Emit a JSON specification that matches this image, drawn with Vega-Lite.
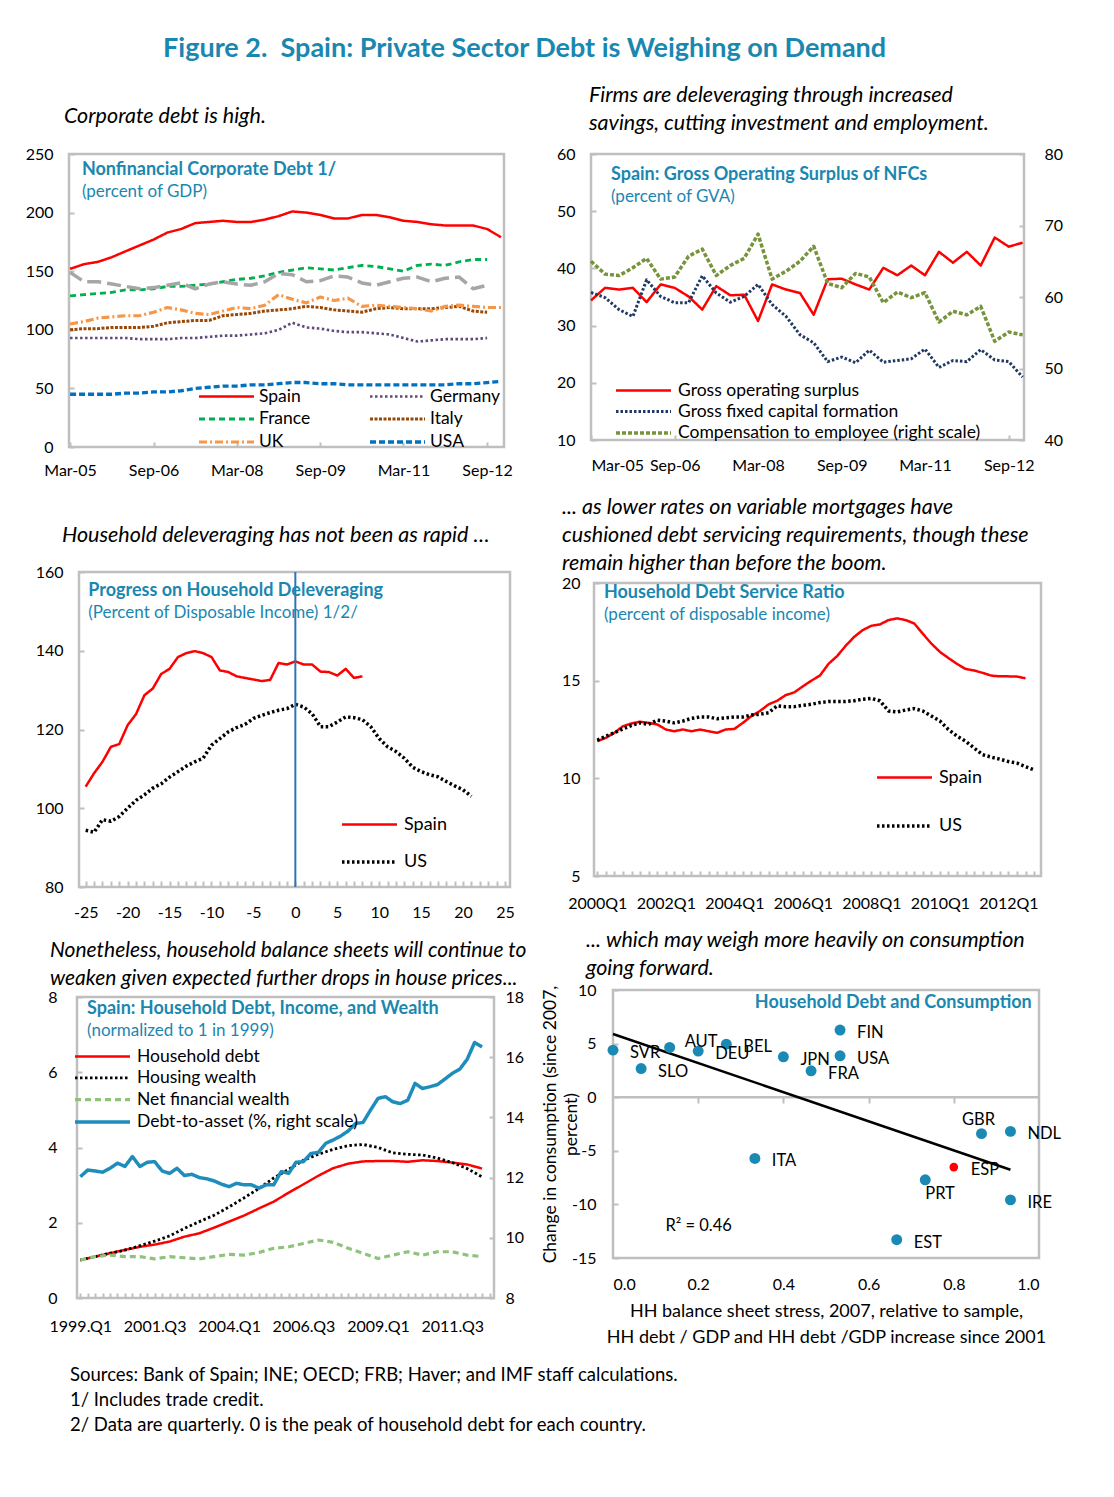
{
"$schema": "https://vega.github.io/schema/vega-lite/v6.json",
"padding": {"left": 18, "top": 35, "right": 10, "bottom": 10},
"title": {"text": "Figure 2.\u00a0 Spain: Private Sector Debt is Weighing on Demand", "fontSize": 27, "fontWeight": "bold", "fontStyle": "normal", "color": "#1a87b0", "anchor": "middle", "frame": "bounds", "offset": 20, "dx": -21, "lineHeight": 30},
"columns": 1, "align": "none", "spacing": 17,
"resolve": {"scale": {"color": "independent", "strokeDash": "independent", "strokeWidth": "independent"}},
"concat": [
{"spacing": 4,
 "resolve": {"scale": {"color": "independent", "strokeDash": "independent", "strokeWidth": "independent"}},
 "hconcat": [
 {"columns": 1, "align": "none", "spacing": 43, "resolve": {"scale": {"color": "independent", "strokeDash": "independent", "strokeWidth": "independent"}}, "concat": [
  {"spacing": 0, "resolve": {"scale": {"color": "independent", "strokeDash": "independent", "strokeWidth": "independent"}}, "hconcat": [
  {"width": 1, "height": 1, "view": {"stroke": null}, "data": {"values": []}, "mark": {"type": "text"}},
  {"width": 435, "height": 293,
   "title": {"text": ["", "Corporate debt is high."], "lineHeight": 14, "dx": -5, "offset": 19},
   "layer": [
    {"data": {"name": "p1"},
     "transform": [{"fold": ["Spain","Germany","France","Italy","UK","USA","Other"], "as": ["s","v"]}, {"filter": "isValid(datum.v)"}],
     "mark": {"type": "line", "strokeJoin": "round"},
     "encoding": {
      "x": {"field": "d", "type": "temporal", "scale": {"nice": false, "domain": [{"year":2005,"month":2,"date":22},{"year":2012,"month":12,"date":21}]},
            "axis": {"values": [{"year":2005,"month":3,"date":1},{"year":2006,"month":9,"date":1},{"year":2008,"month":3,"date":1},{"year":2009,"month":9,"date":1},{"year":2011,"month":3,"date":1},{"year":2012,"month":9,"date":1}], "format": "%b-%y", "labelPadding": 20, "title": null}},
      "y": {"field": "v", "type": "quantitative", "scale": {"nice": false, "domain": [0,250]}, "axis": {"values": [0,50,100,150,200,250], "labelPadding": 21, "minExtent": 48, "maxExtent": 48, "title": null}},
      "color": {"field": "s", "type": "nominal", "scale": {"domain": ["Spain","Germany","France","Italy","UK","USA","Other"], "range": ["#ff0000","#604a7b","#00b050","#984807","#f79646","#0070c0","#a6a6a6"]},
                "legend": {"values": ["Spain","France","UK","Germany","Italy","USA"], "columns": 2, "legendX": 144.5, "legendY": 230, "columnPadding": 52, "rowPadding": 1.5, "labelOffset": 19.5, "title": null}},
      "strokeDash": {"field": "s", "type": "nominal", "scale": {"domain": ["Spain","Germany","France","Italy","UK","USA","Other"], "range": [[1,0],[2.5,2.5],[6,4],[3,1.5],[8,3,2,3],[6,3],[14,6]]}},
      "strokeWidth": {"field": "s", "type": "nominal", "scale": {"domain": ["Spain","Germany","France","Italy","UK","USA","Other"], "range": [2.5,3.5,2,2.5,2,2.5,3]}}
     }},
    {"data": {"values": [{}]}, "mark": {"type": "text", "align": "left", "baseline": "middle", "fontSize": 18, "fontWeight": "bold", "color": "#1a87b0"},
     "encoding": {"x": {"datum": {"year":2005,"month":5,"date":18}, "type": "temporal"}, "y": {"datum": 236}, "text": {"value": "Nonfinancial Corporate Debt 1/"}}},
    {"data": {"values": [{}]}, "mark": {"type": "text", "align": "left", "baseline": "middle", "fontSize": 17, "color": "#1a87b0"},
     "encoding": {"x": {"datum": {"year":2005,"month":5,"date":18}, "type": "temporal"}, "y": {"datum": 217.5}, "text": {"value": "(percent of GDP)"}}}
   ]}]},
  {"columns": 1, "align": "none", "spacing": 16, "resolve": {"scale": {"color": "independent", "strokeDash": "independent", "strokeWidth": "independent"}}, "concat": [
   {"spacing": 0, "resolve": {"scale": {"color": "independent", "strokeDash": "independent", "strokeWidth": "independent"}}, "hconcat": [
   {"width": 1, "height": 1, "view": {"stroke": null}, "data": {"values": []}, "mark": {"type": "text"}},
   {"width": 431, "height": 315,
    "title": {"text": "Household deleveraging has not been as rapid \u2026", "dx": -17, "offset": 18},
    "resolve": {"axis": {"x": "independent"}},
    "layer": [
     {"data": {"name": "p3"},
      "transform": [{"fold": ["Spain","US"], "as": ["s","v"]}, {"filter": "isValid(datum.v)"}],
      "mark": {"type": "line", "strokeJoin": "round"},
      "encoding": {
       "x": {"field": "x", "type": "quantitative", "scale": {"nice": false, "domain": [-25.8, 25.6]},
             "axis": {"orient": "bottom", "values": [-25,-20,-15,-10,-5,0,5,10,15,20,25], "labelExpr": "replace(datum.label, '\u2212', '-')", "ticks": false, "labelPadding": 17, "title": null}},
       "y": {"field": "v", "type": "quantitative", "scale": {"nice": false, "domain": [80,160]}, "axis": {"values": [80,100,120,140,160], "labelPadding": 21, "minExtent": 58, "maxExtent": 58, "title": null}},
       "color": {"field": "s", "type": "nominal", "scale": {"domain": ["Spain","US"], "range": ["#ff0000","#000000"]},
                 "legend": {"legendX": 277.5, "legendY": 240, "rowPadding": 15, "labelFontSize": 18, "title": null}},
       "strokeDash": {"field": "s", "type": "nominal", "scale": {"domain": ["Spain","US"], "range": [[1,0],[2.5,2.5]]}},
       "strokeWidth": {"field": "s", "type": "nominal", "scale": {"domain": ["Spain","US"], "range": [2.5,3.5]}}
      }},
     {"data": {"values": [{}]}, "mark": {"type": "rule", "color": "#2e75b6", "strokeWidth": 2},
      "encoding": {"x": {"datum": 0, "axis": {"orient": "bottom", "labels": false, "values": [-25,-24,-23,-22,-21,-20,-19,-18,-17,-16,-15,-14,-13,-12,-11,-10,-9,-8,-7,-6,-5,-4,-3,-2,-1,0,1,2,3,4,5,6,7,8,9,10,11,12,13,14,15,16,17,18,19,20,21,22,23,24,25], "tickSize": -6, "title": null}}}},
     {"data": {"values": [{}]}, "mark": {"type": "text", "align": "left", "baseline": "middle", "fontSize": 18, "fontWeight": "bold", "color": "#1a87b0"},
      "encoding": {"x": {"datum": -24.7, "axis": null}, "y": {"datum": 155.2}, "text": {"value": "Progress on Household Deleveraging"}}},
     {"data": {"values": [{}]}, "mark": {"type": "text", "align": "left", "baseline": "middle", "fontSize": 17, "color": "#1a87b0"},
      "encoding": {"x": {"datum": -24.7, "axis": null}, "y": {"datum": 149.6}, "text": {"value": "(Percent of Disposable Income) 1/2/"}}}
    ]}]},
   {"spacing": 0, "resolve": {"scale": {"color": "independent", "strokeDash": "independent", "strokeWidth": "independent"}}, "hconcat": [
   {"width": 1, "height": 1, "view": {"stroke": null}, "data": {"values": []}, "mark": {"type": "text"}},
   {"width": 417, "height": 301,
    "title": {"text": ["Nonetheless, household balance sheets will continue to", "weaken given expected further drops in house prices..."], "fontSize": 21, "dx": -27, "offset": 0},
    "resolve": {"scale": {"y": "independent"}},
    "layer": [
     {"data": {"name": "p5"},
      "transform": [{"fold": ["Household debt","Housing wealth","Net financial wealth"], "as": ["s","v"]}, {"filter": "isValid(datum.v)"}],
      "mark": {"type": "line", "strokeJoin": "round"},
      "encoding": {
       "x": {"field": "d", "type": "temporal", "scale": {"nice": false, "domain": [{"year":1998,"month":11,"date":21},{"year":2012,"month":11,"date":25}]},
             "axis": {"tickCount": {"interval": "month", "step": 3}, "labelExpr": "((year(datum.value) - 1999) * 4 + floor(month(datum.value) / 3)) % 10 == 0 ? timeFormat(datum.value, '%Y.Q%q') : ''", "labelOverlap": false, "labelPadding": 25, "title": null}},
       "y": {"field": "v", "type": "quantitative", "scale": {"nice": false, "domain": [0,8]}, "axis": {"values": [0,2,4,6,8], "labelPadding": 25, "minExtent": 56, "maxExtent": 56, "title": null}},
       "color": {"field": "s", "type": "nominal", "scale": {"domain": ["Household debt","Housing wealth","Net financial wealth","Debt-to-asset (%, right scale)"], "range": ["#ff0000","#000000","#8fc27a","#1f8dbb"]},
                 "legend": {"legendX": 12.5, "legendY": 47, "rowPadding": 0.3, "title": null}},
       "strokeDash": {"field": "s", "type": "nominal", "scale": {"domain": ["Household debt","Housing wealth","Net financial wealth","Debt-to-asset (%, right scale)"], "range": [[1,0],[2.5,2.5],[6,4],[1,0]]}},
       "strokeWidth": {"field": "s", "type": "nominal", "scale": {"domain": ["Household debt","Housing wealth","Net financial wealth","Debt-to-asset (%, right scale)"], "range": [2.5,3.5,2.5,3]}}
      }},
     {"data": {"name": "p5"},
      "transform": [{"fold": ["Debt-to-asset (%, right scale)"], "as": ["s","v"]}, {"filter": "isValid(datum.v)"}],
      "mark": {"type": "line", "strokeJoin": "round"},
      "encoding": {
       "x": {"field": "d", "type": "temporal"},
       "y": {"field": "v", "type": "quantitative", "scale": {"nice": false, "domain": [8,18]}, "axis": {"orient": "right", "values": [8,10,12,14,16,18], "labelPadding": 16, "minExtent": 38, "maxExtent": 38, "title": null}},
       "color": {"field": "s", "type": "nominal", "scale": {"domain": ["Household debt","Housing wealth","Net financial wealth","Debt-to-asset (%, right scale)"], "range": ["#ff0000","#000000","#8fc27a","#1f8dbb"]}},
       "strokeDash": {"field": "s", "type": "nominal", "scale": {"domain": ["Household debt","Housing wealth","Net financial wealth","Debt-to-asset (%, right scale)"], "range": [[1,0],[2.5,2.5],[6,4],[1,0]]}},
       "strokeWidth": {"field": "s", "type": "nominal", "scale": {"domain": ["Household debt","Housing wealth","Net financial wealth","Debt-to-asset (%, right scale)"], "range": [2.5,3.5,2.5,3]}}
      }},
     {"data": {"values": [{}]}, "mark": {"type": "text", "align": "left", "baseline": "middle", "fontSize": 18, "fontWeight": "bold", "color": "#1a87b0"},
      "encoding": {"x": {"datum": {"year":1999,"month":3,"date":24}, "type": "temporal"}, "y": {"datum": 7.68, "scale": {"domain": [0,8], "nice": false}, "axis": null}, "text": {"value": "Spain:  Household Debt, Income, and Wealth"}}},
     {"data": {"values": [{}]}, "mark": {"type": "text", "align": "left", "baseline": "middle", "fontSize": 17, "color": "#1a87b0"},
      "encoding": {"x": {"datum": {"year":1999,"month":3,"date":24}, "type": "temporal"}, "y": {"datum": 7.1, "scale": {"domain": [0,8], "nice": false}, "axis": null}, "text": {"value": "(normalized to 1 in 1999)"}}}
    ]}]}
  ]}
 ]},
 {"columns": 1, "align": "none", "spacing": 20, "resolve": {"scale": {"color": "independent", "strokeDash": "independent", "strokeWidth": "independent"}}, "concat": [
  {"spacing": 0, "resolve": {"scale": {"color": "independent", "strokeDash": "independent", "strokeWidth": "independent"}}, "hconcat": [
  {"width": 1, "height": 1, "view": {"stroke": null}, "data": {"values": []}, "mark": {"type": "text"}},
  {"width": 433, "height": 286,
   "title": {"text": ["Firms are deleveraging through increased", "savings, cutting investment and employment."], "dx": -2, "offset": 12},
   "resolve": {"scale": {"y": "independent"}},
   "layer": [
    {"data": {"name": "p2"},
     "transform": [{"fold": ["Gross operating surplus","Gross fixed capital formation"], "as": ["s","v"]}, {"filter": "isValid(datum.v)"}],
     "mark": {"type": "line", "strokeJoin": "round"},
     "encoding": {
      "x": {"field": "d", "type": "temporal", "scale": {"nice": false, "domain": [{"year":2005,"month":3,"date":1},{"year":2012,"month":12,"date":10}]},
            "axis": {"values": [{"year":2005,"month":3,"date":1},{"year":2006,"month":9,"date":1},{"year":2008,"month":3,"date":1},{"year":2009,"month":9,"date":1},{"year":2011,"month":3,"date":1},{"year":2012,"month":9,"date":1}], "format": "%b-%y", "labelPadding": 22, "title": null}},
      "y": {"field": "v", "type": "quantitative", "scale": {"nice": false, "domain": [10,60]}, "axis": {"values": [10,20,30,40,50,60], "labelPadding": 21, "minExtent": 50, "maxExtent": 50, "title": null}},
      "color": {"field": "s", "type": "nominal", "scale": {"domain": ["Gross operating surplus","Gross fixed capital formation","Compensation to employee (right scale)"], "range": ["#ff0000","#1f3864","#77933c"]},
                "legend": {"legendX": 39.5, "legendY": 224, "rowPadding": -1.5, "title": null}},
      "strokeDash": {"field": "s", "type": "nominal", "scale": {"domain": ["Gross operating surplus","Gross fixed capital formation","Compensation to employee (right scale)"], "range": [[1,0],[2.5,2],[4,2]]}},
      "strokeWidth": {"field": "s", "type": "nominal", "scale": {"domain": ["Gross operating surplus","Gross fixed capital formation","Compensation to employee (right scale)"], "range": [2.5,3.5,2.5]}}
     }},
    {"data": {"name": "p2"},
     "transform": [{"fold": ["Compensation to employee (right scale)"], "as": ["s","v"]}, {"filter": "isValid(datum.v)"}],
     "mark": {"type": "line", "strokeJoin": "round"},
     "encoding": {
      "x": {"field": "d", "type": "temporal"},
      "y": {"field": "v", "type": "quantitative", "scale": {"nice": false, "domain": [40,80]}, "axis": {"orient": "right", "values": [40,50,60,70,80], "labelPadding": 25, "minExtent": 48, "maxExtent": 48, "title": null}},
      "color": {"field": "s", "type": "nominal", "scale": {"domain": ["Gross operating surplus","Gross fixed capital formation","Compensation to employee (right scale)"], "range": ["#ff0000","#1f3864","#77933c"]}},
      "strokeDash": {"field": "s", "type": "nominal", "scale": {"domain": ["Gross operating surplus","Gross fixed capital formation","Compensation to employee (right scale)"], "range": [[1,0],[2.5,2],[4,2]]}},
      "strokeWidth": {"field": "s", "type": "nominal", "scale": {"domain": ["Gross operating surplus","Gross fixed capital formation","Compensation to employee (right scale)"], "range": [2.5,3.5,2.5]}}
     }},
    {"data": {"values": [{}]}, "mark": {"type": "text", "align": "left", "baseline": "middle", "fontSize": 18, "fontWeight": "bold", "color": "#1a87b0"},
     "encoding": {"x": {"datum": {"year":2005,"month":7,"date":10}, "type": "temporal"}, "y": {"datum": 56.3, "scale": {"domain": [10,60], "nice": false}, "axis": null}, "text": {"value": "Spain: Gross Operating Surplus of NFCs"}}},
    {"data": {"values": [{}]}, "mark": {"type": "text", "align": "left", "baseline": "middle", "fontSize": 17, "color": "#1a87b0"},
     "encoding": {"x": {"datum": {"year":2005,"month":7,"date":10}, "type": "temporal"}, "y": {"datum": 52.5, "scale": {"domain": [10,60], "nice": false}, "axis": null}, "text": {"value": "(percent of GVA)"}}}
   ]}]},
  {"columns": 1, "align": "none", "spacing": 15, "resolve": {"scale": {"color": "independent", "strokeDash": "independent", "strokeWidth": "independent"}}, "concat": [
   {"spacing": 0, "resolve": {"scale": {"color": "independent", "strokeDash": "independent", "strokeWidth": "independent"}}, "hconcat": [
   {"width": 1, "height": 1, "view": {"stroke": null}, "data": {"values": []}, "mark": {"type": "text"}},
   {"width": 447, "height": 293,
    "title": {"text": ["... as lower rates on variable mortgages have", "cushioned debt servicing requirements, though these", "remain higher than before the boom."], "dx": -32, "offset": 1},
    "layer": [
     {"data": {"name": "p4"},
      "transform": [{"fold": ["Spain","US"], "as": ["s","v"]}, {"filter": "isValid(datum.v)"}],
      "mark": {"type": "line", "strokeJoin": "round"},
      "encoding": {
       "x": {"field": "d", "type": "temporal", "scale": {"nice": false, "domain": [{"year":1999,"month":11,"date":27},{"year":2012,"month":12,"date":13}]},
             "axis": {"tickCount": {"interval": "month", "step": 3}, "labelExpr": "month(datum.value) == 0 && year(datum.value) % 2 == 0 ? timeFormat(datum.value, '%YQ%q') : ''", "labelOverlap": false, "labelPadding": 24, "title": null}},
       "y": {"field": "v", "type": "quantitative", "scale": {"nice": false, "domain": [5,20]}, "axis": {"values": [5,10,15,20], "labelPadding": 19, "minExtent": 53, "maxExtent": 53, "title": null}},
       "color": {"field": "s", "type": "nominal", "scale": {"domain": ["Spain","US"], "range": ["#ff0000","#000000"]},
                 "legend": {"legendX": 297.5, "legendY": 182, "rowPadding": 26, "labelFontSize": 18, "title": null}},
       "strokeDash": {"field": "s", "type": "nominal", "scale": {"domain": ["Spain","US"], "range": [[1,0],[2.5,2.5]]}},
       "strokeWidth": {"field": "s", "type": "nominal", "scale": {"domain": ["Spain","US"], "range": [2.5,3.5]}}
      }},
     {"data": {"values": [{}]}, "mark": {"type": "text", "align": "left", "baseline": "middle", "fontSize": 18, "fontWeight": "bold", "color": "#1a87b0"},
      "encoding": {"x": {"datum": {"year":2000,"month":3,"date":12}, "type": "temporal"}, "y": {"datum": 19.48}, "text": {"value": "Household Debt Service Ratio"}}},
     {"data": {"values": [{}]}, "mark": {"type": "text", "align": "left", "baseline": "middle", "fontSize": 17, "color": "#1a87b0"},
      "encoding": {"x": {"datum": {"year":2000,"month":3,"date":12}, "type": "temporal"}, "y": {"datum": 18.34}, "text": {"value": "(percent of disposable income)"}}}
    ]}]},
   {"spacing": 0, "resolve": {"scale": {"color": "independent", "strokeDash": "independent", "strokeWidth": "independent"}}, "hconcat": [
   {"width": 1, "height": 1, "view": {"stroke": null}, "data": {"values": []}, "mark": {"type": "text"}},
   {"width": 426, "height": 268,
    "title": {"text": ["... which may weigh more heavily on consumption", "going forward."], "dx": -27, "offset": 3},
    "resolve": {"axis": {"x": "independent"}},
    "layer": [
     {"data": {"values": [{}]}, "mark": {"type": "rule", "color": "#bfbfbf", "strokeWidth": 2.5}, "encoding": {"y": {"datum": 0}}},
     {"data": {"name": "fit"}, "mark": {"type": "line", "color": "#000000", "strokeWidth": 2.5},
      "encoding": {"x": {"field": "x", "type": "quantitative", "scale": {"domain": [0,1], "nice": false}, "axis": {"orient": "bottom", "offset": -161, "labels": false, "values": [0.2,0.4,0.6,0.8], "tickSize": 6, "title": null}},
                   "y": {"field": "y", "type": "quantitative"}}},
     {"data": {"name": "p6"}, "mark": {"type": "circle", "opacity": 1},
      "encoding": {
       "x": {"field": "x", "type": "quantitative", "axis": {"orient": "bottom", "values": [0,0.2,0.4,0.6,0.8,1], "format": ".1f", "ticks": false, "labelPadding": 18, "title": ["HH balance sheet stress, 2007, relative to sample,", "HH debt / GDP and HH debt /GDP increase since 2001"], "titlePadding": 10, "titleLineHeight": 26, "titleFontSize": 18}},
       "y": {"field": "y", "type": "quantitative", "scale": {"domain": [-15,10], "nice": false}, "axis": {"values": [-15,-10,-5,0,5,10], "labelExpr": "replace(datum.label, '\u2212', '-')", "labelPadding": 22, "minExtent": 20, "maxExtent": 20, "title": ["Change in consumption (since 2007,", "percent)"], "titlePadding": 13, "titleLineHeight": 21, "titleFontSize": 17.5}},
       "color": {"condition": {"test": "datum.c === 'ESP'", "value": "#ff0000"}, "value": "#1a8ab5"},
       "size": {"condition": {"test": "datum.c === 'ESP'", "value": 75}, "value": 120}
      }},
     {"data": {"name": "p6"}, "transform": [{"filter": "indexof(['GBR','PRT','AUT'], datum.c) < 0"}],
      "mark": {"type": "text", "align": "left", "baseline": "middle", "dx": 17, "dy": 3, "fontSize": 16.5},
      "encoding": {"x": {"field": "x", "type": "quantitative", "axis": null}, "y": {"field": "y", "type": "quantitative"}, "text": {"field": "c"}}},
     {"data": {"name": "p6"}, "transform": [{"filter": "datum.c === 'AUT'"}],
      "mark": {"type": "text", "align": "left", "baseline": "middle", "dx": 15, "dy": -5, "fontSize": 16.5},
      "encoding": {"x": {"field": "x", "type": "quantitative", "axis": null}, "y": {"field": "y", "type": "quantitative"}, "text": {"field": "c"}}},
     {"data": {"name": "p6"}, "transform": [{"filter": "datum.c === 'GBR'"}],
      "mark": {"type": "text", "align": "center", "baseline": "middle", "dx": -3, "dy": -14, "fontSize": 16.5},
      "encoding": {"x": {"field": "x", "type": "quantitative", "axis": null}, "y": {"field": "y", "type": "quantitative"}, "text": {"field": "c"}}},
     {"data": {"name": "p6"}, "transform": [{"filter": "datum.c === 'PRT'"}],
      "mark": {"type": "text", "align": "left", "baseline": "middle", "dx": 0, "dy": 14, "fontSize": 16.5},
      "encoding": {"x": {"field": "x", "type": "quantitative", "axis": null}, "y": {"field": "y", "type": "quantitative"}, "text": {"field": "c"}}},
     {"data": {"values": [{}]}, "mark": {"type": "text", "align": "left", "baseline": "middle", "fontSize": 16.5},
      "encoding": {"x": {"datum": 0.123, "axis": null}, "y": {"datum": -12}, "text": {"value": "R\u00b2 = 0.46"}}},
     {"data": {"values": [{}]}, "mark": {"type": "text", "align": "right", "baseline": "middle", "fontSize": 18, "fontWeight": "bold", "color": "#1a87b0"},
      "encoding": {"x": {"datum": 0.983, "axis": null}, "y": {"datum": 8.8}, "text": {"value": "Household Debt and Consumption"}}}
    ]}]}
  ]}
 ]}
]},
{"width": 10, "height": 1, "view": {"stroke": null},
 "data": {"values": []}, "mark": {"type": "text"},
 "title": {"text": ["Sources: Bank of Spain; INE; OECD; FRB; Haver; and IMF staff calculations.", "1/ Includes trade credit.", "2/ Data are quarterly. 0 is the peak of household debt for each country."], "fontStyle": "normal", "fontSize": 18.5, "lineHeight": 25, "dx": 52, "offset": 0}}
],
"datasets": {
 "p1": [
  {"d":"2005/03/01","Spain":152,"Germany":93,"France":129,"Italy":100,"UK":105,"USA":45,"Other":149},
  {"d":"2005/06/01","Spain":156,"Germany":93,"France":130,"Italy":101,"UK":107,"USA":45,"Other":141},
  {"d":"2005/09/01","Spain":158,"Germany":93,"France":131,"Italy":101,"UK":110,"USA":45,"Other":141},
  {"d":"2005/12/01","Spain":162,"Germany":93,"France":132,"Italy":102,"UK":111,"USA":45,"Other":139},
  {"d":"2006/03/01","Spain":167,"Germany":93,"France":134,"Italy":102,"UK":112,"USA":46,"Other":137},
  {"d":"2006/06/01","Spain":172,"Germany":92,"France":134,"Italy":102,"UK":112,"USA":46,"Other":135},
  {"d":"2006/09/01","Spain":177,"Germany":92,"France":135,"Italy":103,"UK":115,"USA":47,"Other":136},
  {"d":"2006/12/01","Spain":183,"Germany":92,"France":137,"Italy":106,"UK":119,"USA":47,"Other":138},
  {"d":"2007/03/01","Spain":186,"Germany":93,"France":137,"Italy":107,"UK":117,"USA":48,"Other":140},
  {"d":"2007/06/01","Spain":191,"Germany":93,"France":138,"Italy":108,"UK":114,"USA":50,"Other":135},
  {"d":"2007/09/01","Spain":192,"Germany":94,"France":139,"Italy":108,"UK":113,"USA":51,"Other":139},
  {"d":"2007/12/01","Spain":193,"Germany":95,"France":141,"Italy":112,"UK":116,"USA":52,"Other":141},
  {"d":"2008/03/01","Spain":192,"Germany":95,"France":143,"Italy":113,"UK":119,"USA":52,"Other":139},
  {"d":"2008/06/01","Spain":192,"Germany":96,"France":144,"Italy":114,"UK":118,"USA":53,"Other":138},
  {"d":"2008/09/01","Spain":194,"Germany":97,"France":146,"Italy":116,"UK":121,"USA":53,"Other":141},
  {"d":"2008/12/01","Spain":197,"Germany":100,"France":149,"Italy":117,"UK":130,"USA":54,"Other":148},
  {"d":"2009/03/01","Spain":201,"Germany":106,"France":151,"Italy":118,"UK":126,"USA":55,"Other":147},
  {"d":"2009/06/01","Spain":200,"Germany":102,"France":153,"Italy":120,"UK":123,"USA":55,"Other":141},
  {"d":"2009/09/01","Spain":198,"Germany":101,"France":152,"Italy":119,"UK":128,"USA":54,"Other":142},
  {"d":"2009/12/01","Spain":195,"Germany":99,"France":151,"Italy":117,"UK":125,"USA":54,"Other":146},
  {"d":"2010/03/01","Spain":195,"Germany":98,"France":153,"Italy":116,"UK":127,"USA":53,"Other":145},
  {"d":"2010/06/01","Spain":198,"Germany":98,"France":155,"Italy":115,"UK":120,"USA":53,"Other":140},
  {"d":"2010/09/01","Spain":198,"Germany":97,"France":154,"Italy":118,"UK":121,"USA":53,"Other":138},
  {"d":"2010/12/01","Spain":196,"Germany":96,"France":152,"Italy":119,"UK":120,"USA":53,"Other":141},
  {"d":"2011/03/01","Spain":193,"Germany":93,"France":150,"Italy":118,"UK":119,"USA":53,"Other":144},
  {"d":"2011/06/01","Spain":192,"Germany":90,"France":155,"Italy":118,"UK":118,"USA":53,"Other":145},
  {"d":"2011/09/01","Spain":190,"Germany":91,"France":156,"Italy":118,"UK":116,"USA":53,"Other":141},
  {"d":"2011/12/01","Spain":189,"Germany":92,"France":155,"Italy":119,"UK":120,"USA":53,"Other":144},
  {"d":"2012/03/01","Spain":189,"Germany":92,"France":158,"Italy":120,"UK":121,"USA":54,"Other":145},
  {"d":"2012/06/01","Spain":189,"Germany":92,"France":160,"Italy":116,"UK":120,"USA":54,"Other":135},
  {"d":"2012/09/01","Spain":186,"Germany":93,"France":160,"Italy":115,"UK":119,"USA":55,"Other":138},
  {"d":"2012/12/01","Spain":179,"UK":119,"USA":56}
 ],
 "p2": [
  {"d":"2005/03/01","Gross operating surplus":34.4,"Gross fixed capital formation":35.8,"Compensation to employee (right scale)":65.0},
  {"d":"2005/06/01","Gross operating surplus":36.6,"Gross fixed capital formation":34.9,"Compensation to employee (right scale)":63.2},
  {"d":"2005/09/01","Gross operating surplus":36.3,"Gross fixed capital formation":32.8,"Compensation to employee (right scale)":63.0},
  {"d":"2005/12/01","Gross operating surplus":36.6,"Gross fixed capital formation":31.6,"Compensation to employee (right scale)":64.1},
  {"d":"2006/03/01","Gross operating surplus":34.1,"Gross fixed capital formation":38.0,"Compensation to employee (right scale)":65.4},
  {"d":"2006/06/01","Gross operating surplus":37.2,"Gross fixed capital formation":35.1,"Compensation to employee (right scale)":62.5},
  {"d":"2006/09/01","Gross operating surplus":36.6,"Gross fixed capital formation":34.0,"Compensation to employee (right scale)":62.8},
  {"d":"2006/12/01","Gross operating surplus":35.1,"Gross fixed capital formation":34.0,"Compensation to employee (right scale)":65.7},
  {"d":"2007/03/01","Gross operating surplus":32.8,"Gross fixed capital formation":38.7,"Compensation to employee (right scale)":66.7},
  {"d":"2007/06/01","Gross operating surplus":36.9,"Gross fixed capital formation":35.7,"Compensation to employee (right scale)":63.0},
  {"d":"2007/09/01","Gross operating surplus":35.3,"Gross fixed capital formation":34.1,"Compensation to employee (right scale)":64.4},
  {"d":"2007/12/01","Gross operating surplus":35.4,"Gross fixed capital formation":35.1,"Compensation to employee (right scale)":65.4},
  {"d":"2008/03/01","Gross operating surplus":30.8,"Gross fixed capital formation":37.2,"Compensation to employee (right scale)":68.8},
  {"d":"2008/06/01","Gross operating surplus":37.2,"Gross fixed capital formation":33.7,"Compensation to employee (right scale)":62.5},
  {"d":"2008/09/01","Gross operating surplus":36.3,"Gross fixed capital formation":31.6,"Compensation to employee (right scale)":63.6},
  {"d":"2008/12/01","Gross operating surplus":35.7,"Gross fixed capital formation":28.4,"Compensation to employee (right scale)":65.0},
  {"d":"2009/03/01","Gross operating surplus":31.9,"Gross fixed capital formation":27.0,"Compensation to employee (right scale)":67.1},
  {"d":"2009/06/01","Gross operating surplus":38.1,"Gross fixed capital formation":23.7,"Compensation to employee (right scale)":61.9},
  {"d":"2009/09/01","Gross operating surplus":38.2,"Gross fixed capital formation":24.5,"Compensation to employee (right scale)":61.3},
  {"d":"2009/12/01","Gross operating surplus":37.2,"Gross fixed capital formation":23.5,"Compensation to employee (right scale)":63.3},
  {"d":"2010/03/01","Gross operating surplus":36.3,"Gross fixed capital formation":25.7,"Compensation to employee (right scale)":62.8},
  {"d":"2010/06/01","Gross operating surplus":40.1,"Gross fixed capital formation":23.6,"Compensation to employee (right scale)":59.2},
  {"d":"2010/09/01","Gross operating surplus":38.8,"Gross fixed capital formation":23.9,"Compensation to employee (right scale)":60.7},
  {"d":"2010/12/01","Gross operating surplus":40.5,"Gross fixed capital formation":24.2,"Compensation to employee (right scale)":59.9},
  {"d":"2011/03/01","Gross operating surplus":38.8,"Gross fixed capital formation":25.9,"Compensation to employee (right scale)":60.6},
  {"d":"2011/06/01","Gross operating surplus":42.9,"Gross fixed capital formation":22.7,"Compensation to employee (right scale)":56.5},
  {"d":"2011/09/01","Gross operating surplus":41.0,"Gross fixed capital formation":23.9,"Compensation to employee (right scale)":58.0},
  {"d":"2011/12/01","Gross operating surplus":42.9,"Gross fixed capital formation":23.7,"Compensation to employee (right scale)":57.5},
  {"d":"2012/03/01","Gross operating surplus":40.5,"Gross fixed capital formation":25.8,"Compensation to employee (right scale)":58.7},
  {"d":"2012/06/01","Gross operating surplus":45.4,"Gross fixed capital formation":24.0,"Compensation to employee (right scale)":53.8},
  {"d":"2012/09/01","Gross operating surplus":43.8,"Gross fixed capital formation":23.7,"Compensation to employee (right scale)":55.1},
  {"d":"2012/12/01","Gross operating surplus":44.5,"Gross fixed capital formation":21.0,"Compensation to employee (right scale)":54.7}
 ],
 "p3": [
  {"x":-25,"Spain":105.5,"US":94.4},{"x":-24,"Spain":108.9,"US":93.9},{"x":-23,"Spain":111.8,"US":97.1},{"x":-22,"Spain":115.6,"US":96.7},
  {"x":-21,"Spain":116.3,"US":97.9},{"x":-20,"Spain":121.1,"US":100.0},{"x":-19,"Spain":123.9,"US":102.0},{"x":-18,"Spain":128.7,"US":103.4},
  {"x":-17,"Spain":130.4,"US":105.1},{"x":-16,"Spain":134.1,"US":106.2},{"x":-15,"Spain":135.4,"US":107.9},{"x":-14,"Spain":138.4,"US":109.3},
  {"x":-13,"Spain":139.4,"US":110.7},{"x":-12,"Spain":139.9,"US":111.8},{"x":-11,"Spain":139.4,"US":112.7},{"x":-10,"Spain":138.4,"US":116.0},
  {"x":-9,"Spain":135.0,"US":117.7},{"x":-8,"Spain":134.6,"US":119.4},{"x":-7,"Spain":133.5,"US":120.5},{"x":-6,"Spain":133.1,"US":121.3},
  {"x":-5,"Spain":132.7,"US":122.8},{"x":-4,"Spain":132.3,"US":123.6},{"x":-3,"Spain":132.6,"US":124.3},{"x":-2,"Spain":136.9,"US":124.9},
  {"x":-1,"Spain":136.5,"US":125.3},{"x":0,"Spain":137.3,"US":126.4},{"x":1,"Spain":136.5,"US":125.7},{"x":2,"Spain":136.5,"US":124.0},
  {"x":3,"Spain":134.7,"US":120.7},{"x":4,"Spain":134.6,"US":120.7},{"x":5,"Spain":133.7,"US":121.9},{"x":6,"Spain":135.4,"US":123.2},
  {"x":7,"Spain":133.1,"US":123.0},{"x":8,"Spain":133.5,"US":122.5},{"x":9,"US":120.7},{"x":10,"US":117.7},{"x":11,"US":115.6},
  {"x":12,"US":114.4},{"x":13,"US":112.7},{"x":14,"US":110.4},{"x":15,"US":109.3},{"x":16,"US":108.5},{"x":17,"US":108.0},
  {"x":18,"US":106.8},{"x":19,"US":105.7},{"x":20,"US":104.7},{"x":21,"US":103.0}
 ],
 "p4": [
  {"d":"2000/01/01","Spain":11.9,"US":11.95},{"d":"2000/04/01","Spain":12.07,"US":12.16},{"d":"2000/07/01","Spain":12.33,"US":12.33},{"d":"2000/10/01","Spain":12.67,"US":12.53},
  {"d":"2001/01/01","Spain":12.81,"US":12.71},{"d":"2001/04/01","Spain":12.9,"US":12.84},{"d":"2001/07/01","Spain":12.84,"US":12.76},{"d":"2001/10/01","Spain":12.76,"US":12.98},
  {"d":"2002/01/01","Spain":12.5,"US":12.93},{"d":"2002/04/01","Spain":12.41,"US":12.84},{"d":"2002/07/01","Spain":12.5,"US":12.93},{"d":"2002/10/01","Spain":12.41,"US":13.07},
  {"d":"2003/01/01","Spain":12.5,"US":13.14},{"d":"2003/04/01","Spain":12.41,"US":13.14},{"d":"2003/07/01","Spain":12.33,"US":13.05},{"d":"2003/10/01","Spain":12.5,"US":13.1},
  {"d":"2004/01/01","Spain":12.53,"US":13.14},{"d":"2004/04/01","Spain":12.84,"US":13.14},{"d":"2004/07/01","Spain":13.19,"US":13.24},{"d":"2004/10/01","Spain":13.45,"US":13.28},
  {"d":"2005/01/01","Spain":13.79,"US":13.36},{"d":"2005/04/01","Spain":13.97,"US":13.71},{"d":"2005/07/01","Spain":14.26,"US":13.67},{"d":"2005/10/01","Spain":14.4,"US":13.67},
  {"d":"2006/01/01","Spain":14.71,"US":13.74},{"d":"2006/04/01","Spain":15.0,"US":13.79},{"d":"2006/07/01","Spain":15.26,"US":13.88},{"d":"2006/10/01","Spain":15.86,"US":13.93},
  {"d":"2007/01/01","Spain":16.26,"US":13.93},{"d":"2007/04/01","Spain":16.78,"US":13.93},{"d":"2007/07/01","Spain":17.24,"US":13.97},{"d":"2007/10/01","Spain":17.59,"US":14.05},
  {"d":"2008/01/01","Spain":17.81,"US":14.09},{"d":"2008/04/01","Spain":17.88,"US":13.97},{"d":"2008/07/01","Spain":18.1,"US":13.45},{"d":"2008/10/01","Spain":18.19,"US":13.4},
  {"d":"2009/01/01","Spain":18.1,"US":13.5},{"d":"2009/04/01","Spain":17.93,"US":13.57},{"d":"2009/07/01","Spain":17.41,"US":13.45},{"d":"2009/10/01","Spain":16.9,"US":13.19},
  {"d":"2010/01/01","Spain":16.47,"US":12.93},{"d":"2010/04/01","Spain":16.16,"US":12.5},{"d":"2010/07/01","Spain":15.86,"US":12.16},{"d":"2010/10/01","Spain":15.6,"US":11.9},
  {"d":"2011/01/01","Spain":15.52,"US":11.55},{"d":"2011/04/01","Spain":15.4,"US":11.21},{"d":"2011/07/01","Spain":15.26,"US":11.09},{"d":"2011/10/01","Spain":15.22,"US":10.98},
  {"d":"2012/01/01","Spain":15.22,"US":10.86},{"d":"2012/04/01","Spain":15.21,"US":10.78},{"d":"2012/07/01","Spain":15.12,"US":10.6},{"d":"2012/10/01","US":10.43}
 ],
 "p5": [
  {"d":"1999/01/01","Household debt":1.01,"Housing wealth":1.01,"Net financial wealth":1.01,"Debt-to-asset (%, right scale)":12.03},
  {"d":"1999/04/01","Debt-to-asset (%, right scale)":12.25},
  {"d":"1999/07/01","Household debt":1.1,"Housing wealth":1.1,"Net financial wealth":1.1,"Debt-to-asset (%, right scale)":12.22},
  {"d":"1999/10/01","Debt-to-asset (%, right scale)":12.18},
  {"d":"2000/01/01","Household debt":1.19,"Housing wealth":1.19,"Net financial wealth":1.14,"Debt-to-asset (%, right scale)":12.31},
  {"d":"2000/04/01","Debt-to-asset (%, right scale)":12.48},
  {"d":"2000/07/01","Household debt":1.28,"Housing wealth":1.27,"Net financial wealth":1.1,"Debt-to-asset (%, right scale)":12.37},
  {"d":"2000/10/01","Debt-to-asset (%, right scale)":12.7},
  {"d":"2001/01/01","Household debt":1.36,"Housing wealth":1.39,"Net financial wealth":1.1,"Debt-to-asset (%, right scale)":12.37},
  {"d":"2001/04/01","Debt-to-asset (%, right scale)":12.51},
  {"d":"2001/07/01","Household debt":1.42,"Housing wealth":1.51,"Net financial wealth":1.04,"Debt-to-asset (%, right scale)":12.53},
  {"d":"2001/10/01","Debt-to-asset (%, right scale)":12.22},
  {"d":"2002/01/01","Household debt":1.5,"Housing wealth":1.65,"Net financial wealth":1.1,"Debt-to-asset (%, right scale)":12.14},
  {"d":"2002/04/01","Debt-to-asset (%, right scale)":12.31},
  {"d":"2002/07/01","Household debt":1.63,"Housing wealth":1.85,"Net financial wealth":1.07,"Debt-to-asset (%, right scale)":12.07},
  {"d":"2002/10/01","Debt-to-asset (%, right scale)":12.11},
  {"d":"2003/01/01","Household debt":1.72,"Housing wealth":2.03,"Net financial wealth":1.04,"Debt-to-asset (%, right scale)":12.0},
  {"d":"2003/04/01","Debt-to-asset (%, right scale)":11.96},
  {"d":"2003/07/01","Household debt":1.87,"Housing wealth":2.2,"Net financial wealth":1.1,"Debt-to-asset (%, right scale)":11.89},
  {"d":"2003/10/01","Debt-to-asset (%, right scale)":11.78},
  {"d":"2004/01/01","Household debt":2.03,"Housing wealth":2.42,"Net financial wealth":1.16,"Debt-to-asset (%, right scale)":11.7},
  {"d":"2004/04/01","Debt-to-asset (%, right scale)":11.81},
  {"d":"2004/07/01","Household debt":2.19,"Housing wealth":2.66,"Net financial wealth":1.14,"Debt-to-asset (%, right scale)":11.76},
  {"d":"2004/10/01","Debt-to-asset (%, right scale)":11.76},
  {"d":"2005/01/01","Household debt":2.38,"Housing wealth":2.91,"Net financial wealth":1.21,"Debt-to-asset (%, right scale)":11.65},
  {"d":"2005/04/01","Debt-to-asset (%, right scale)":11.76},
  {"d":"2005/07/01","Household debt":2.56,"Housing wealth":3.19,"Net financial wealth":1.32,"Debt-to-asset (%, right scale)":11.76},
  {"d":"2005/10/01","Debt-to-asset (%, right scale)":12.2},
  {"d":"2006/01/01","Household debt":2.8,"Housing wealth":3.42,"Net financial wealth":1.36,"Debt-to-asset (%, right scale)":12.14},
  {"d":"2006/04/01","Debt-to-asset (%, right scale)":12.51},
  {"d":"2006/07/01","Household debt":3.02,"Housing wealth":3.66,"Net financial wealth":1.45,"Debt-to-asset (%, right scale)":12.53},
  {"d":"2006/10/01","Debt-to-asset (%, right scale)":12.8},
  {"d":"2007/01/01","Household debt":3.25,"Housing wealth":3.82,"Net financial wealth":1.54,"Debt-to-asset (%, right scale)":12.84},
  {"d":"2007/04/01","Debt-to-asset (%, right scale)":13.14},
  {"d":"2007/07/01","Household debt":3.45,"Housing wealth":3.95,"Net financial wealth":1.48,"Debt-to-asset (%, right scale)":13.25},
  {"d":"2007/10/01","Debt-to-asset (%, right scale)":13.38},
  {"d":"2008/01/01","Household debt":3.57,"Housing wealth":4.05,"Net financial wealth":1.32,"Debt-to-asset (%, right scale)":13.55},
  {"d":"2008/04/01","Debt-to-asset (%, right scale)":13.8},
  {"d":"2008/07/01","Household debt":3.63,"Housing wealth":4.08,"Net financial wealth":1.19,"Debt-to-asset (%, right scale)":13.83},
  {"d":"2008/10/01","Debt-to-asset (%, right scale)":14.24},
  {"d":"2009/01/01","Household debt":3.64,"Housing wealth":4.0,"Net financial wealth":1.05,"Debt-to-asset (%, right scale)":14.63},
  {"d":"2009/04/01","Debt-to-asset (%, right scale)":14.69},
  {"d":"2009/07/01","Household debt":3.64,"Housing wealth":3.86,"Net financial wealth":1.14,"Debt-to-asset (%, right scale)":14.52},
  {"d":"2009/10/01","Debt-to-asset (%, right scale)":14.46},
  {"d":"2010/01/01","Household debt":3.62,"Housing wealth":3.82,"Net financial wealth":1.23,"Debt-to-asset (%, right scale)":14.57},
  {"d":"2010/04/01","Debt-to-asset (%, right scale)":15.13},
  {"d":"2010/07/01","Household debt":3.66,"Housing wealth":3.8,"Net financial wealth":1.14,"Debt-to-asset (%, right scale)":14.96},
  {"d":"2010/10/01","Debt-to-asset (%, right scale)":15.02},
  {"d":"2011/01/01","Household debt":3.64,"Housing wealth":3.72,"Net financial wealth":1.23,"Debt-to-asset (%, right scale)":15.09},
  {"d":"2011/04/01","Debt-to-asset (%, right scale)":15.27},
  {"d":"2011/07/01","Household debt":3.6,"Housing wealth":3.6,"Net financial wealth":1.23,"Debt-to-asset (%, right scale)":15.46},
  {"d":"2011/10/01","Debt-to-asset (%, right scale)":15.6},
  {"d":"2012/01/01","Household debt":3.55,"Housing wealth":3.44,"Net financial wealth":1.14,"Debt-to-asset (%, right scale)":15.93},
  {"d":"2012/04/01","Debt-to-asset (%, right scale)":16.49},
  {"d":"2012/07/01","Household debt":3.44,"Housing wealth":3.22,"Net financial wealth":1.1,"Debt-to-asset (%, right scale)":16.34}
 ],
 "p6": [
  {"c":"SVR","x":0.0,"y":4.39},{"c":"SLO","x":0.066,"y":2.67},{"c":"AUT","x":0.133,"y":4.64},{"c":"DEU","x":0.2,"y":4.3},
  {"c":"BEL","x":0.266,"y":4.95},{"c":"JPN","x":0.4,"y":3.77},{"c":"FRA","x":0.465,"y":2.46},{"c":"FIN","x":0.533,"y":6.26},
  {"c":"USA","x":0.533,"y":3.86},{"c":"ITA","x":0.333,"y":-5.71},{"c":"GBR","x":0.865,"y":-3.4},{"c":"NDL","x":0.933,"y":-3.19},
  {"c":"ESP","x":0.8,"y":-6.52},{"c":"PRT","x":0.733,"y":-7.71},{"c":"IRE","x":0.933,"y":-9.58},{"c":"EST","x":0.666,"y":-13.29}
 ],
 "fit": [{"x":0,"y":5.9},{"x":0.933,"y":-6.77}]
},
"config": {
 "font": "Lato",
 "view": {"stroke": "#bfbfbf", "strokeWidth": 2.5},
 "axis": {"grid": false, "domain": false, "labelFont": "Lato", "labelFontSize": 16, "labelColor": "#000000", "tickColor": "#bfbfbf", "tickWidth": 2, "tickSize": -5, "titleFont": "Lato", "titleFontSize": 16, "titleFontWeight": "normal", "titleColor": "#000000"},
 "title": {"font": "Lato", "fontSize": 21.5, "fontStyle": "italic", "fontWeight": "normal", "color": "#000000", "anchor": "start", "frame": "group", "lineHeight": 28},
 "legend": {"orient": "none", "labelFont": "Lato", "labelFontSize": 17.5, "labelColor": "#000000", "labelLimit": 500, "padding": 0, "symbolType": "M-2.5,0H2.5", "symbolSize": 484, "labelOffset": 21.5}
}
}
